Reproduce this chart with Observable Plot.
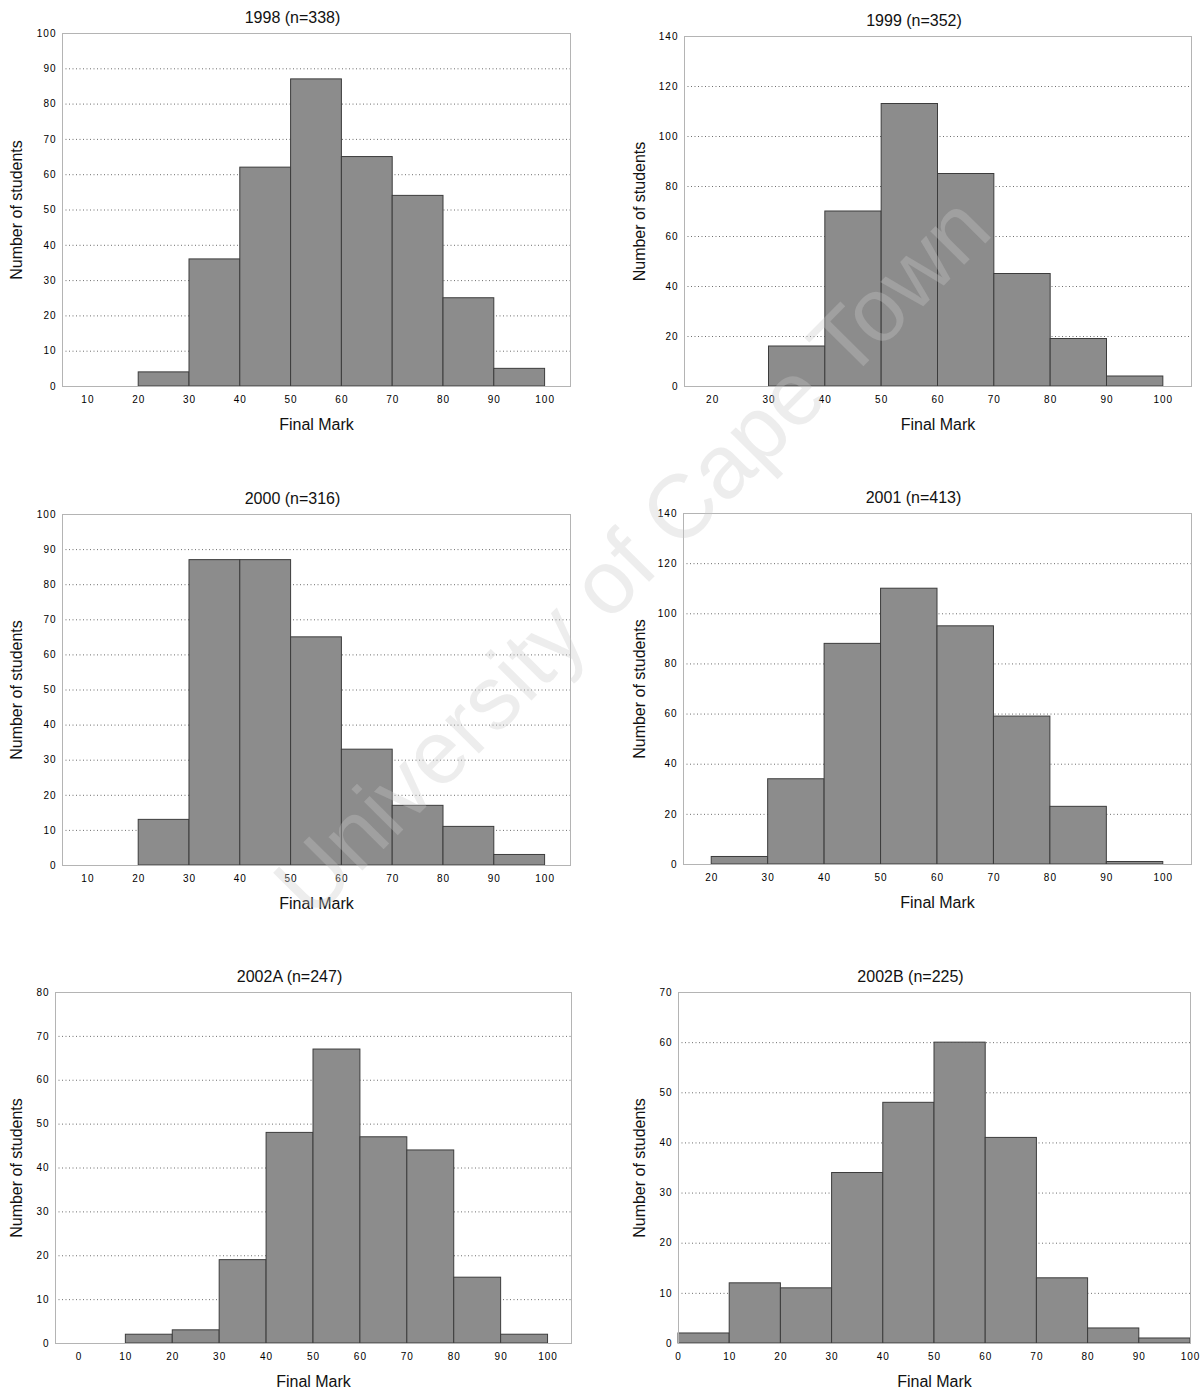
<!DOCTYPE html>
<html>
<head>
<meta charset="utf-8">
<script src="https://cdn.jsdelivr.net/npm/d3@7"></script>
<script src="https://cdn.jsdelivr.net/npm/@observablehq/plot@0.6"></script>
<style>
  html, body { margin: 0; padding: 0; background: #fff; }
  #page { position: relative; width: 1202px; height: 1389px; overflow: hidden; background: #fff;
          font-family: "Liberation Sans", Arial, sans-serif; }
  .panel { position: absolute; }
  .panel svg { display: block; }
  .panel svg g[aria-label="x-axis tick label"] text,
  .panel svg g[aria-label="y-axis tick label"] text { letter-spacing: 1px; }
  #wm { position: absolute; left: 632px; top: 556px; white-space: nowrap;
        transform: translate(-50%, -50%) rotate(-45.2deg);
        font-family: "Liberation Sans", Arial, sans-serif; font-size: 90px;
        color: rgba(200, 200, 200, 0.33); pointer-events: none; }
</style>
</head>
<body>
<div id="page"></div>
<script>
// ---- data ----
const binStarts = [0, 10, 20, 30, 40, 50, 60, 70, 80, 90];
const binWidth = 10;
const titles = ["1998 (n=338)", "1999 (n=352)", "2000 (n=316)", "2001 (n=413)", "2002A (n=247)", "2002B (n=225)"];
const counts1998 = [0, 0, 4, 36, 62, 87, 65, 54, 25, 5];
const counts1999 = [0, 0, 0, 16, 70, 113, 85, 45, 19, 4];
const counts2000 = [0, 0, 13, 87, 87, 65, 33, 17, 11, 3];
const counts2001 = [0, 0, 3, 34, 88, 110, 95, 59, 23, 1];
const counts2002A = [0, 2, 3, 19, 48, 67, 47, 44, 15, 2];
const counts2002B = [2, 12, 11, 34, 48, 60, 41, 13, 3, 1];
const xTicks10 = [10, 20, 30, 40, 50, 60, 70, 80, 90, 100];
const xTicks20 = [20, 30, 40, 50, 60, 70, 80, 90, 100];
const xTicks0 = [0, 10, 20, 30, 40, 50, 60, 70, 80, 90, 100];
const yTicks100 = [0, 10, 20, 30, 40, 50, 60, 70, 80, 90, 100];
const yTicks140 = [0, 20, 40, 60, 80, 100, 120, 140];
const yTicks80 = [0, 10, 20, 30, 40, 50, 60, 70, 80];
const yTicks70 = [0, 10, 20, 30, 40, 50, 60, 70];
const xLabel = "Final Mark";
const yLabel = "Number of students";
const watermarkText = "University of Cape Town";

// ---- layout ----
const panels = [
  {title: titles[0], counts: counts1998, xDomain: [5, 105], xTicks: xTicks10, yMax: 100, yTicks: yTicks100,
   left: 0, top: 0, height: 460, m: [33, 31, 74, 62], ylabDx: -46},
  {title: titles[1], counts: counts1999, xDomain: [15, 105], xTicks: xTicks20, yMax: 140, yTicks: yTicks140,
   left: 601, top: 0, height: 460, m: [36, 11, 74, 83], ylabDx: -45},
  {title: titles[2], counts: counts2000, xDomain: [5, 105], xTicks: xTicks10, yMax: 100, yTicks: yTicks100,
   left: 0, top: 480, height: 460, m: [34, 31, 75, 62], ylabDx: -46},
  {title: titles[3], counts: counts2001, xDomain: [15, 105], xTicks: xTicks20, yMax: 140, yTicks: yTicks140,
   left: 601, top: 480, height: 460, m: [33, 11, 76, 82], ylabDx: -44},
  {title: titles[4], counts: counts2002A, xDomain: [-5, 105], xTicks: xTicks0, yMax: 80, yTicks: yTicks80,
   left: 0, top: 960, height: 429, m: [32, 30, 46, 55], ylabDx: -39},
  {title: titles[5], counts: counts2002B, xDomain: [0, 100], xTicks: xTicks0, yMax: 70, yTicks: yTicks70,
   left: 601, top: 960, height: 429, m: [32, 12, 46, 77], ylabDx: -39}
];

const page = document.getElementById("page");

for (const p of panels) {
  const bars = binStarts
    .map((s, i) => ({x1: s, x2: s + binWidth, y1: 0, y2: p.counts[i]}))
    .filter(d => d.y2 > 0);
  const chart = Plot.plot({
    width: 601,
    height: p.height,
    marginTop: p.m[0], marginRight: p.m[1], marginBottom: p.m[2], marginLeft: p.m[3],
    style: {fontFamily: "'Liberation Sans', Arial, sans-serif", fontSize: "10px", color: "#000",
            background: "transparent", overflow: "visible"},
    x: {domain: p.xDomain},
    y: {domain: [0, p.yMax]},
    marks: [
      Plot.gridY(p.yTicks, {stroke: "#555", strokeOpacity: 0.85, strokeDasharray: "1,2.5"}),
      Plot.rect(bars, {x1: "x1", x2: "x2", y1: "y1", y2: "y2", fill: "#8c8c8c", stroke: "#3c3c3c", strokeWidth: 1}),
      Plot.frame({stroke: "#b4b4b4"}),
      Plot.axisX(p.xTicks, {tickSize: 0, tickPadding: 9, fontSize: 10, label: null}),
      Plot.axisY(p.yTicks, {tickSize: 0, tickPadding: 6, fontSize: 10, label: null}),
      Plot.text([p.title], {text: d => d, frameAnchor: "top", dx: -24, dy: -16, fontSize: 16, textAnchor: "middle", lineAnchor: "middle", fill: "#111"}),
      Plot.text([xLabel], {text: d => d, frameAnchor: "bottom", dy: 38, fontSize: 16, textAnchor: "middle", lineAnchor: "middle", fill: "#111"}),
      Plot.text([yLabel], {text: d => d, frameAnchor: "left", dx: p.ylabDx, rotate: -90, fontSize: 16, textAnchor: "middle", lineAnchor: "middle", fill: "#111"})
    ]
  });
  const div = document.createElement("div");
  div.className = "panel";
  div.style.left = p.left + "px";
  div.style.top = p.top + "px";
  div.appendChild(chart);
  page.appendChild(div);
}

const wm = document.createElement("div");
wm.id = "wm";
wm.textContent = watermarkText;
page.appendChild(wm);
</script>
</body>
</html>
